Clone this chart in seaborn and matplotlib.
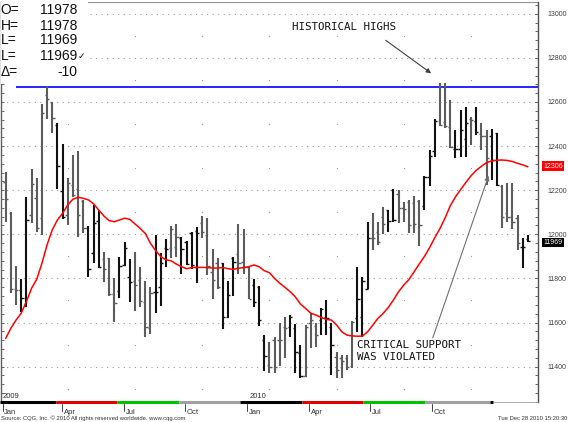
import matplotlib
matplotlib.use("Agg")
import matplotlib.pyplot as plt
import matplotlib.transforms as mtransforms
from matplotlib.ticker import MultipleLocator
import numpy as np
import pandas as pd
import seaborn as sns

# ---------------- data (weekly OHLC) ----------------
opens = [12239, 12095, 11750, 11748, 11680, 12088, 12163, 12072, 12632, 12599,
         12496, 12197, 12088, 12224, 12204, 12153, 12027, 11914, 12062, 11887,
         11891, 11728, 11744, 11861, 11808, 11790, 11793, 11695, 11574, 11738,
         11760, 11936, 11936, 11944, 11985, 11967, 12004, 12017, 12053, 11997,
         11831, 11868, 11868, 11623, 11891, 11911, 11876, 11850, 11770, 11763,
         11520, 11407, 11521, 11521, 11581, 11581, 11574, 11463, 11357, 11599,
         11584, 11611, 11623, 11581, 11445, 11437, 11437, 11403, 11619, 11626,
         11750, 11981, 12009, 12080, 12110, 12201, 12183, 12118, 12148, 12143,
         12151, 12130, 12261, 12380, 12513, 12510, 12485, 12389, 12389, 12430,
         12521, 12515, 12454, 12445, 12445, 12461, 12219, 12095, 12080, 12072,
         11944, 11978]
highs = [12284, 12100, 11856, 11797, 12171, 12296, 12255, 12591, 12673, 12602,
         12503, 12408, 12257, 12360, 12379, 12156, 12038, 12133, 12110, 11921,
         11891, 11803, 11899, 11964, 11887, 11920, 11853, 11788, 11763, 11999,
         11917, 11977, 12039, 12047, 11989, 11971, 12012, 12035, 12083, 12073,
         11932, 11891, 11871, 11790, 11896, 12047, 12023, 11853, 11797, 11767,
         11543, 11513, 11536, 11596, 11626, 11634, 11593, 11498, 11589, 11642,
         11596, 11667, 11702, 11596, 11468, 11453, 11453, 11608, 11853, 11808,
         12057, 12095, 12057, 12125, 12110, 12204, 12201, 12148, 12155, 12174,
         12155, 12264, 12382, 12521, 12687, 12685, 12609, 12473, 12564, 12579,
         12533, 12579, 12503, 12473, 12476, 12461, 12223, 12231, 12231, 12087,
         11981, 11995]
lows = [12057, 11732, 11679, 11649, 11670, 12050, 12009, 11997, 12522, 12458,
        12204, 12068, 12042, 12171, 11989, 12008, 11808, 11868, 11846, 11785,
        11720, 11604, 11710, 11856, 11691, 11654, 11672, 11536, 11548, 11642,
        11675, 11853, 11891, 11896, 11820, 11861, 11843, 11778, 11982, 11815,
        11705, 11750, 11569, 11619, 11720, 11818, 11818, 11705, 11669, 11584,
        11380, 11369, 11372, 11403, 11437, 11536, 11372, 11347, 11354, 11483,
        11490, 11543, 11543, 11362, 11347, 11347, 11385, 11392, 11558, 11535,
        11750, 11929, 11951, 12001, 12012, 12057, 12049, 12057, 12007, 12007,
        11947, 12110, 12219, 12352, 12491, 12480, 12390, 12344, 12349, 12349,
        12405, 12450, 12382, 12223, 12246, 12220, 12027, 12057, 12022, 11929,
        11845, 11966]
closes = [12160, 11750, 11748, 11710, 12065, 12228, 12027, 12552, 12614, 12526,
          12310, 12080, 12231, 12178, 12088, 12027, 11841, 12053, 11850, 11841,
          11728, 11687, 11856, 11940, 11782, 11770, 11699, 11581, 11735, 11740,
          11871, 11933, 12023, 11986, 11932, 11865, 11861, 12004, 12012, 11856,
          11793, 11763, 11623, 11725, 11876, 11871, 11853, 11705, 11691, 11611,
          11448, 11397, 11397, 11521, 11574, 11623, 11468, 11357, 11581, 11611,
          11543, 11660, 11619, 11498, 11385, 11427, 11400, 11604, 11705, 11790,
          11981, 11981, 11966, 12047, 12062, 12065, 12118, 12113, 12042, 12047,
          12042, 12258, 12355, 12515, 12495, 12492, 12394, 12389, 12472, 12506,
          12518, 12465, 12445, 12344, 12336, 12223, 12080, 12080, 12057, 11962,
          11944, 11969]
moving_avg = [11528, 11574, 11611, 11642, 11695, 11755, 11796, 11868, 11952, 12020,
              12065, 12095, 12133, 12159, 12168, 12163, 12156, 12138, 12110, 12083,
              12062, 12057, 12065, 12073, 12068, 12047, 12027, 12004, 11959, 11926,
              11899, 11884, 11880, 11865, 11853, 11844, 11849, 11850, 11850, 11849,
              11847, 11847, 11849, 11844, 11841, 11846, 11849, 11853, 11861, 11853,
              11835, 11826, 11800, 11778, 11760, 11740, 11717, 11684, 11664, 11642,
              11634, 11623, 11614, 11611, 11589, 11558, 11543, 11539, 11538, 11538,
              11558, 11588, 11619, 11641, 11668, 11702, 11740, 11770, 11795, 11830,
              11866, 11900, 11940, 11985, 12026, 12075, 12130, 12170, 12203, 12235,
              12265, 12290, 12308, 12325, 12333, 12336, 12337, 12335, 12330, 12322,
              12315, 12306]
# month shading of the bars (1 = black month, 0 = grey month)
shade = [0, 0, 0, 1, 1, 0, 0, 0, 0, 0, 1, 1, 0, 0, 0, 0, 1,
         1, 1, 0, 0, 0, 1, 1, 1, 0, 0, 0, 0, 1, 1, 1, 0, 0,
         1, 1, 1, 1, 0, 0, 0, 0, 1, 1, 1, 0, 0, 0, 1, 1, 1,
         0, 0, 0, 0, 1, 1, 1, 0, 0, 0, 1, 1, 1, 0, 0, 0, 0,
         1, 1, 1, 0, 0, 0, 1, 1, 0, 0, 0, 0, 0, 1, 1, 1, 0,
         0, 0, 1, 1, 1, 0, 1, 0, 0, 1, 1, 0, 0, 0, 0, 1, 1]

historical_high = 12670
high_line_start = 2
header_labels = ["O=", "H=", "L=", "L=", "\u0394="]
header_values = ["11978", "11978", "11969", "11969\u2713", "-10"]
last_ma_label = "12306"
last_price_label = "11969"
month_labels = ["Jan", "Apr", "Jul", "Oct", "Jan", "Apr", "Jul", "Oct"]
month_pos = [-0.6, 10.9, 22.9, 34.7, 46.7, 58.7, 70.5, 82.5]
year_labels = ["2009", "2010"]
year_pos = [-0.8, 46.9]
quarter_edges = [-1.1, 9.7, 21.5, 33.5, 45.3, 57.3, 69.1, 81.1, 93.7]
quarter_colors = ["#000000", "#e00000", "#00c000", "#a0a0a0",
                  "#000000", "#e00000", "#00c000", "#a0a0a0"]
y_ticks = [11400, 11600, 11800, 12000, 12200, 12400, 12600, 12800, 13000]

df = pd.DataFrame({"i": np.arange(len(closes)), "open": opens, "high": highs,
                   "low": lows, "close": closes, "ma": moving_avg, "shade": shade})

# ---------------- figure ----------------
sns.set_style("white")
plt.rcParams["font.family"] = ["Liberation Sans", "DejaVu Sans"]

W, H = 568, 422
fig = plt.figure(figsize=(W / 100, H / 100), dpi=100)
fig.patch.set_facecolor("white")
ax = fig.add_axes([1 / W, 20 / H, 537 / W, 400 / H])
XMIN, XMAX = -0.91, 102.96
YMIN, YMAX = 11239.5, 13053.5
ax.set_xlim(XMIN, XMAX)
ax.set_ylim(YMIN, YMAX)

# grid: dotted horizontals every 200
for v in y_ticks:
    ax.axhline(v, color="#9a9a9a", lw=0.8, ls=(0, (1, 4)), zorder=0)
# sparse vertical dot grid
vx = np.arange(12, 100, 13)
vy = np.arange(11300, 13001, 200)
gx, gy = np.meshgrid(vx, vy)
ax.scatter(gx.ravel(), gy.ravel(), s=0.8, color="#9a9a9a", lw=0, zorder=0)

# blue historical high line
ax.hlines(historical_high, high_line_start, XMAX, color="#0000ff", lw=1.2, zorder=2)

# OHLC bars
cols = np.where(df["shade"] == 1, "#111111", "#5c5c5c")
ax.vlines(df["i"], df["low"], df["high"], colors=cols, lw=1.5, zorder=3)
ax.hlines(df["open"], df["i"] - 0.45, df["i"], colors=cols, lw=1.0, zorder=3)
ax.hlines(df["close"], df["i"], df["i"] + 0.45, colors=cols, lw=1.0, zorder=3)

# moving average
sns.lineplot(data=df, x="i", y="ma", color="#ff0000", lw=1.1, ax=ax, zorder=4)
ax.set_xlabel("")
ax.set_ylabel("")

# annotations
mono = "DejaVu Sans Mono"
ax.annotate("", xy=(82.3, 12730), xytext=(73.5, 12880),
            arrowprops=dict(arrowstyle="-|>", color="#404040", lw=0.8,
                            mutation_scale=7, shrinkA=0, shrinkB=0))
ax.annotate("", xy=(93.4, 12266), xytext=(82.6, 11530),
            arrowprops=dict(arrowstyle="-|>", color="#707070", lw=0.8,
                            mutation_scale=7, shrinkA=0, shrinkB=0))
fig.text(292 / W, 1 - 27 / H, "HISTORICAL HIGHS", family=mono, fontsize=7.8,
         ha="left", va="center", color="#111111")
fig.text(357 / W, 1 - 345 / H, "CRITICAL SUPPORT", family=mono, fontsize=7.8,
         ha="left", va="center", color="#111111")
fig.text(357 / W, 1 - 357 / H, "WAS VIOLATED", family=mono, fontsize=7.8,
         ha="left", va="center", color="#111111")

# spines / ticks
for s in ["top", "bottom"]:
    ax.spines[s].set_visible(False)
ax.spines["left"].set_color("#606060")
ax.spines["right"].set_color("#505050")
ax.spines["left"].set_linewidth(1.0)
ax.spines["right"].set_linewidth(1.0)
ax.set_xticks([])
ax.set_yticks(y_ticks)
ax.yaxis.set_minor_locator(MultipleLocator(40))
ax.tick_params(axis="y", which="both", direction="in", left=True, right=True,
               labelleft=False, labelright=True, length=2.5, width=0.6,
               color="#505050", labelsize=5, labelcolor="#404040", pad=7)
ax.axhline(YMAX, color="#909090", lw=0.8)

# quarter colour bar on bottom edge
for k in range(len(quarter_colors)):
    ax.hlines(YMIN, quarter_edges[k], quarter_edges[k + 1], colors=quarter_colors[k],
              lw=2.2, clip_on=False, zorder=5)
ax.hlines(YMIN, quarter_edges[-1], 94.2, colors="#000000", lw=2.2, clip_on=False, zorder=5)
ax.hlines(YMIN, 94.2, XMAX, colors="#a0a0a0", lw=0.6, clip_on=False, zorder=5)

trans = mtransforms.blended_transform_factory(ax.transData, ax.transAxes)
for p, lab in zip(month_pos, month_labels):
    ax.plot([p, p], [-0.004, -0.022], color="#404040", lw=0.7, transform=trans,
            clip_on=False)
    ax.text(p + 0.35, -0.026, lab, transform=trans, fontsize=5.5, color="#303030",
            ha="left", va="center", clip_on=False)
for p, lab in zip(year_pos, year_labels):
    ax.text(p + 0.25, 0.013, lab, transform=trans, fontsize=5.5, color="#303030",
            ha="left", va="center")

# header box
ax.add_patch(plt.Rectangle((0, 1 - 82 / 400), 87 / 537, 82 / 400, transform=ax.transAxes,
                           facecolor="white", edgecolor="none", zorder=6))
rows_y = [10.5, 25.5, 40.5, 55.5, 71.5]
for yy, lab, val in zip(rows_y, header_labels, header_values):
    fig.text(0.5 / W, 1 - yy / H, lab, fontsize=10, ha="left", va="center",
             color="#111111", zorder=7)
    if val.endswith("\u2713"):
        fig.text(77 / W, 1 - yy / H, val[:-1], fontsize=10, ha="right", va="center",
                 color="#111111", zorder=7)
        fig.text(77.5 / W, 1 - (yy + 1) / H, "\u2713", fontsize=6.5, ha="left",
                 va="center", color="#111111", family=["DejaVu Sans"], zorder=7)
    else:
        fig.text(77 / W, 1 - yy / H, val, fontsize=10, ha="right", va="center",
                 color="#111111", zorder=7)

# right-side value boxes
fig.text(553 / W, 1 - 166 / H, last_ma_label, fontsize=5, color="white",
         ha="center", va="center",
         bbox=dict(boxstyle="square,pad=0.2", facecolor="#ff0000", edgecolor="none"))
fig.text(553 / W, 1 - 242.5 / H, last_price_label, fontsize=5, color="white",
         ha="center", va="center",
         bbox=dict(boxstyle="square,pad=0.15", facecolor="#000000", edgecolor="none"))

# footer
fig.text(1 / W, 1 - 418 / H, "Source: CQG, Inc. \u00a9 2010 All rights reserved worldwide. www.cqg.com",
         fontsize=4.2, color="#303030", ha="left", va="center")
fig.text(567 / W, 1 - 418 / H, "Tue Dec 28 2010 15:20:30", fontsize=4.2,
         color="#303030", ha="right", va="center")

fig.savefig("out.png", dpi=100)
